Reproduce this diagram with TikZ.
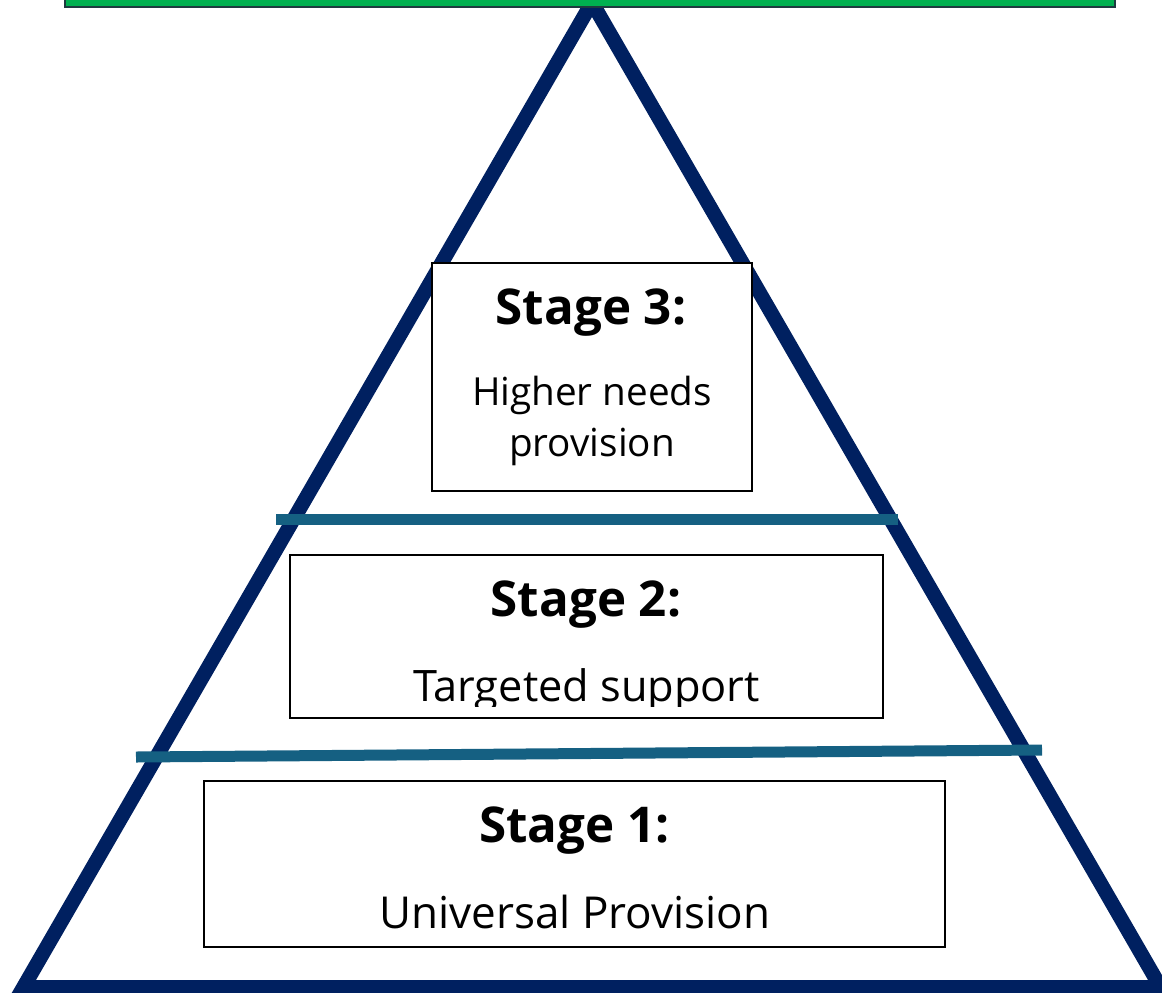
\documentclass[tikz,border=0pt]{standalone}
\usepackage{fontspec}
\setmainfont{Open Sans}
\definecolor{navy}{HTML}{002060}
\definecolor{tealline}{HTML}{156082}
\definecolor{topgreen}{HTML}{00B050}
\definecolor{greenedge}{HTML}{1E3A40}
\begin{document}
\begin{tikzpicture}[x=0.75pt,y=-0.75pt,
  stagebox/.style={draw=black,line width=1.2pt,fill=white,rectangle,inner sep=0pt},
  headtext/.style={anchor=base,font=\bfseries\fontsize{37}{40}\selectfont,inner sep=0pt},
  bodytext/.style={anchor=base,inner sep=0pt},
  divider/.style={draw=tealline,line width=8.25pt,line cap=butt}]
\useasboundingbox (0,0) rectangle (1162,992);
\clip (0,0) rectangle (1162,992);
% pyramid
\coordinate (apex) at (592,2.4);
\coordinate (bl) at (23.4,987.25);
\coordinate (br) at (1160.6,987.25);
\draw[navy,line width=10.9pt,line join=miter] (apex) -- (bl) -- (br) -- cycle;
% top banner
\node[draw=greenedge,fill=topgreen,line width=1.2pt,minimum width=1050*0.75pt,minimum height=40*0.75pt,inner sep=0pt,anchor=south] (banner) at (590,8) {};
% dividers
\coordinate (d1l) at (276,519.5);
\coordinate (d1r) at (898,519.5);
\coordinate (d2l) at (136,757);
\coordinate (d2r) at (1042,750);
\draw[divider] (d1l) -- (d1r);
\draw[divider] (d2l) -- (d2r);
% boxes
\node[stagebox,minimum width=320*0.75pt,minimum height=228*0.75pt] (box3) at (592,377) {};
\node[stagebox,minimum width=593*0.75pt,minimum height=163*0.75pt] (box2) at (586.5,636.5) {};
\node[stagebox,minimum width=741*0.75pt,minimum height=166*0.75pt] (box1) at (574.5,864) {};
% texts
\node[headtext] (h3) at (591,324) {Stage 3:};
\node[bodytext,font=\fontsize{29}{32}\selectfont] (t3a) at (592,405) {Higher needs};
\node[bodytext,font=\fontsize{29}{32}\selectfont] (t3b) at (592,456) {provision};
\node[headtext] (h2) at (586,616) {Stage 2:};
\begin{scope}
\clip (290,555) rectangle (883,706);
\node[bodytext,font=\fontsize{32.5}{36}\selectfont] (t2) at (586.5,701) {Targeted support};
\end{scope}
\node[headtext] (h1) at (574.5,842) {Stage 1:};
\node[bodytext,font=\fontsize{33}{36}\selectfont] (t1) at (575,928) {Universal Provision};
\end{tikzpicture}
\end{document}
